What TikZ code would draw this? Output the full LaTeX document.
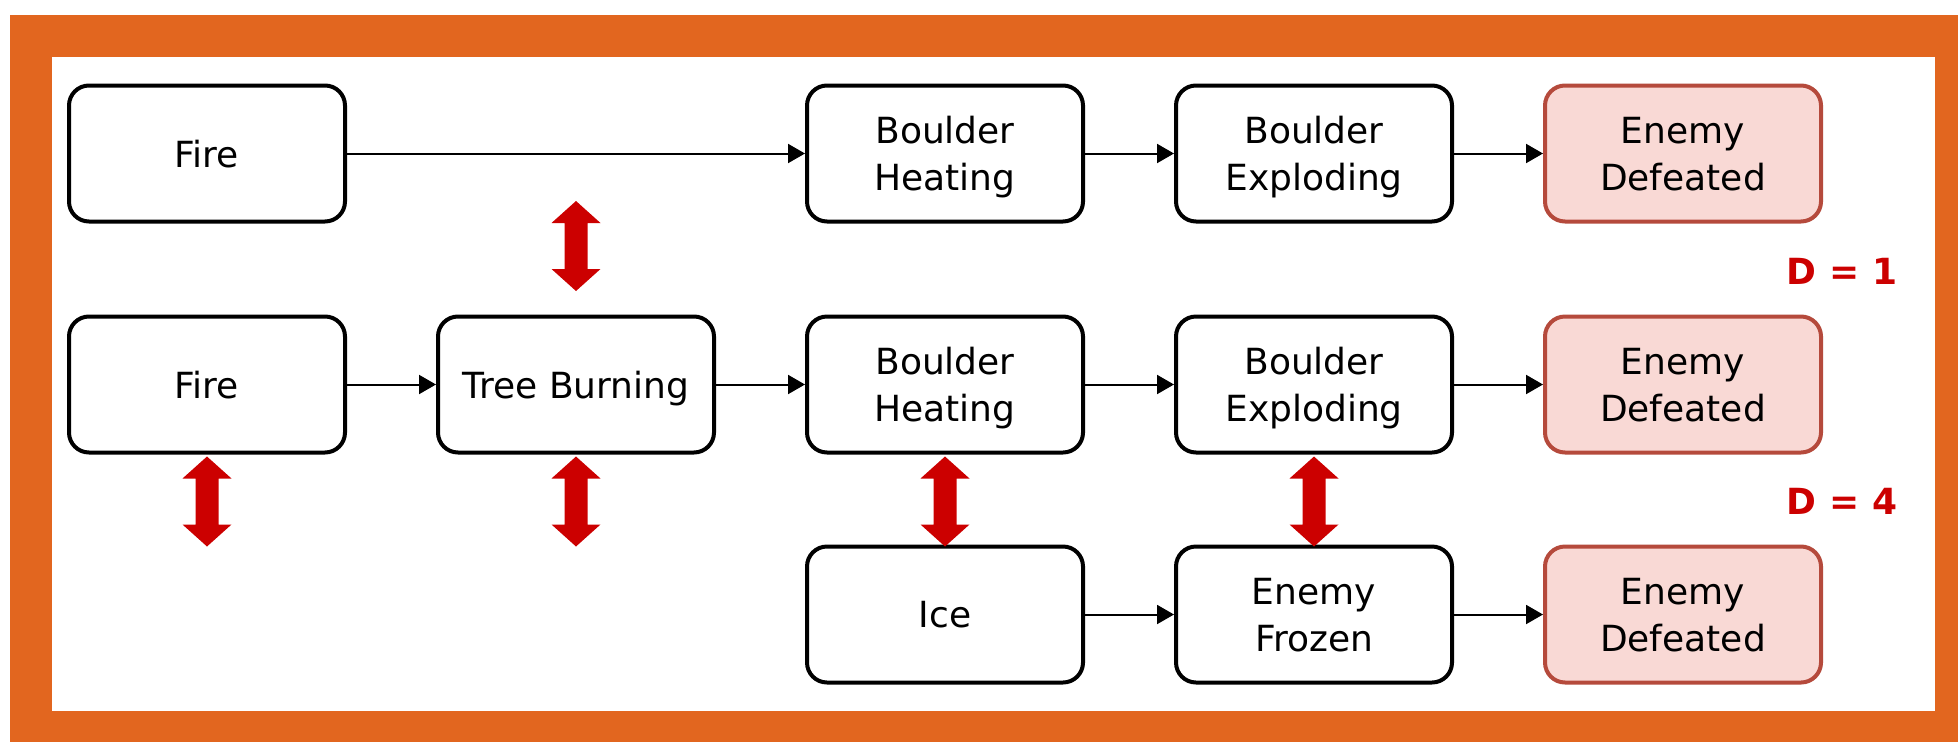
\documentclass[tikz,border=0pt]{standalone}
\usepackage{fontspec}
\setmainfont{DejaVu Sans}
\usetikzlibrary{arrows.meta,calc}
\definecolor{frameorange}{HTML}{E2661F}
\definecolor{arrred}{HTML}{CC0000}
\definecolor{pinkfill}{HTML}{F9D9D5}
\definecolor{pinkdraw}{HTML}{B54A3C}
\tikzset{
  box/.style={draw=black, line width=4pt, rounded corners=20pt, fill=white,
    minimum width=276pt, minimum height=136pt, inner sep=0pt, align=center,
    text depth=0pt, font=\fontsize{36}{47}\selectfont},
  goal/.style={box, draw=pinkdraw, fill=pinkfill},
  conn/.style={line width=2pt, -{Triangle[length=17pt,width=19pt]}},
  dlabel/.style={text=arrred, font=\fontsize{36}{44}\selectfont\bfseries, inner sep=0pt},
  dblarr/.pic={
    \fill[arrred] (0,0) -- (24.5,22) -- (11.5,22) -- (11.5,68) -- (24.5,68)
      -- (0,90) -- (-24.5,68) -- (-11.5,68) -- (-11.5,22) -- (-24.5,22) -- cycle;
  }
}
\begin{document}
\begin{tikzpicture}[x=1pt,y=-1pt]
\useasboundingbox (0,0) rectangle (1958,742);
\fill[frameorange] (10,15) rectangle (1958,742);
\fill[white] (52,57) rectangle (1935,711);

% row 1
\node[box]  (f1)  at (207,153.5) {Fire};
\node[box]  (bh1) at (945,153.5) {Boulder\\Heating};
\node[box]  (be1) at (1314,153.5) {Boulder\\Exploding};
\node[goal] (ed1) at (1683,153.5) {Enemy\\Defeated};
% row 2
\node[box]  (f2)  at (207,384.5) {Fire};
\node[box]  (tb)  at (576,384.5) {Tree Burning};
\node[box]  (bh2) at (945,384.5) {Boulder\\Heating};
\node[box]  (be2) at (1314,384.5) {Boulder\\Exploding};
\node[goal] (ed2) at (1683,384.5) {Enemy\\Defeated};
% row 3
\node[box]  (ice) at (945,614.5) {Ice};
\node[box]  (ef)  at (1314,614.5) {Enemy\\Frozen};
\node[goal] (ed3) at (1683,614.5) {Enemy\\Defeated};

\draw[conn] (f1) -- (bh1);
\draw[conn] (bh1) -- (be1);
\draw[conn] (be1) -- (ed1);
\draw[conn] (f2) -- (tb);
\draw[conn] (tb) -- (bh2);
\draw[conn] (bh2) -- (be2);
\draw[conn] (be2) -- (ed2);
\draw[conn] (ice) -- (ef);
\draw[conn] (ef) -- (ed3);

% red double arrows
\pic at (576,201) {dblarr};
\pic at ($(f2.south)+(0,2)$) {dblarr};
\pic at ($(tb.south)+(0,2)$) {dblarr};
\pic at ($(bh2.south)+(0,2)$) {dblarr};
\pic at ($(be2.south)+(0,2)$) {dblarr};

\node[dlabel] (d1) at (1842,271) {D = 1};
\node[dlabel] (d4) at (1842,501) {D = 4};
\end{tikzpicture}
\end{document}
